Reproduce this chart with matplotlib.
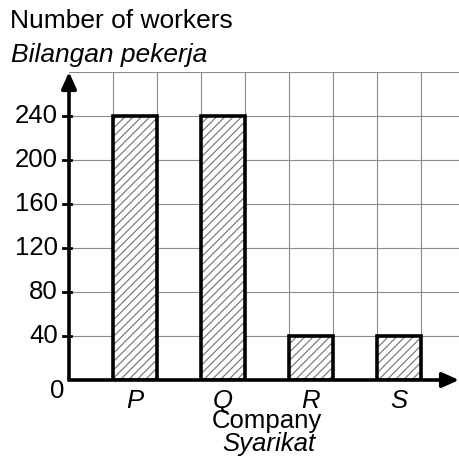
import matplotlib.pyplot as plt
import numpy as np

plt.rcParams['font.family'] = ['Liberation Sans', 'DejaVu Sans']
plt.rcParams['hatch.linewidth'] = 0.8

companies = ['P', 'Q', 'R', 'S']
workers = [240, 240, 40, 40]
bar_pos = [1.5, 3.5, 5.5, 7.5]
y_ticks = [40, 80, 120, 160, 200, 240]

W = H = 459
fig = plt.figure(figsize=(W / 100, H / 100), dpi=100)
x0, y0 = 69, 380          # origin in pixels
unit_x, unit_y = 44, 44 / 40
xmax = (W - x0) / unit_x
ymax = 280
ax = fig.add_axes([x0 / W, (H - y0) / H, (W - x0) / W, (y0 - 72) / H])
ax.set_xlim(0, xmax)
ax.set_ylim(0, ymax)
ax.axis('off')

# grid
for gx in range(1, 9):
    ax.plot([gx, gx], [0, ymax], color='#8c8c8c', lw=0.8, zorder=1)
for gy in y_ticks + [280]:
    ax.plot([0, xmax], [gy, gy], color='#8c8c8c', lw=0.8, zorder=1)

# bars: hatch layer then thick outline
ax.bar(bar_pos, workers, width=1, color='white', edgecolor='#707070',
       hatch='////', lw=0, zorder=2)
ax.bar(bar_pos, workers, width=1, color='none', edgecolor='black',
       lw=2.6, zorder=3)

# axes with arrows
arrow = dict(arrowstyle='-|>,head_length=1.0,head_width=0.45',
             lw=2.6, color='black', shrinkA=0, shrinkB=0)
ax.annotate('', xy=(xmax, 0), xytext=(0, 0), annotation_clip=False,
            arrowprops=arrow, zorder=4)
ax.annotate('', xy=(0, ymax), xytext=(0, 0), annotation_clip=False,
            arrowprops=arrow, zorder=4)

fs = 18.5
for t in y_ticks:
    ax.plot([-0.13, 0.05], [t, t], color='black', lw=2, zorder=4, clip_on=False)
    ax.text(-0.25, t, str(t), ha='right', va='center', fontsize=fs, clip_on=False)
ax.text(-0.27, -10, '0', ha='center', va='center', fontsize=fs)

for x, c in zip(bar_pos, companies):
    ax.text(x, -19, c, ha='center', va='center', fontsize=fs, style='italic')

ax.text(4.5, -37, 'Company', ha='center', va='center', fontsize=fs)
ax.text(4.55, -58, 'Syarikat', ha='center', va='center', fontsize=fs, style='italic')

fig.text(10 / W, 1 - 21 / H, 'Number of workers', ha='left', va='center', fontsize=19)
fig.text(11 / W, 1 - 55 / H, 'Bilangan pekerja', ha='left', va='center',
         fontsize=19, style='italic')

fig.savefig('out.png', dpi=100)
